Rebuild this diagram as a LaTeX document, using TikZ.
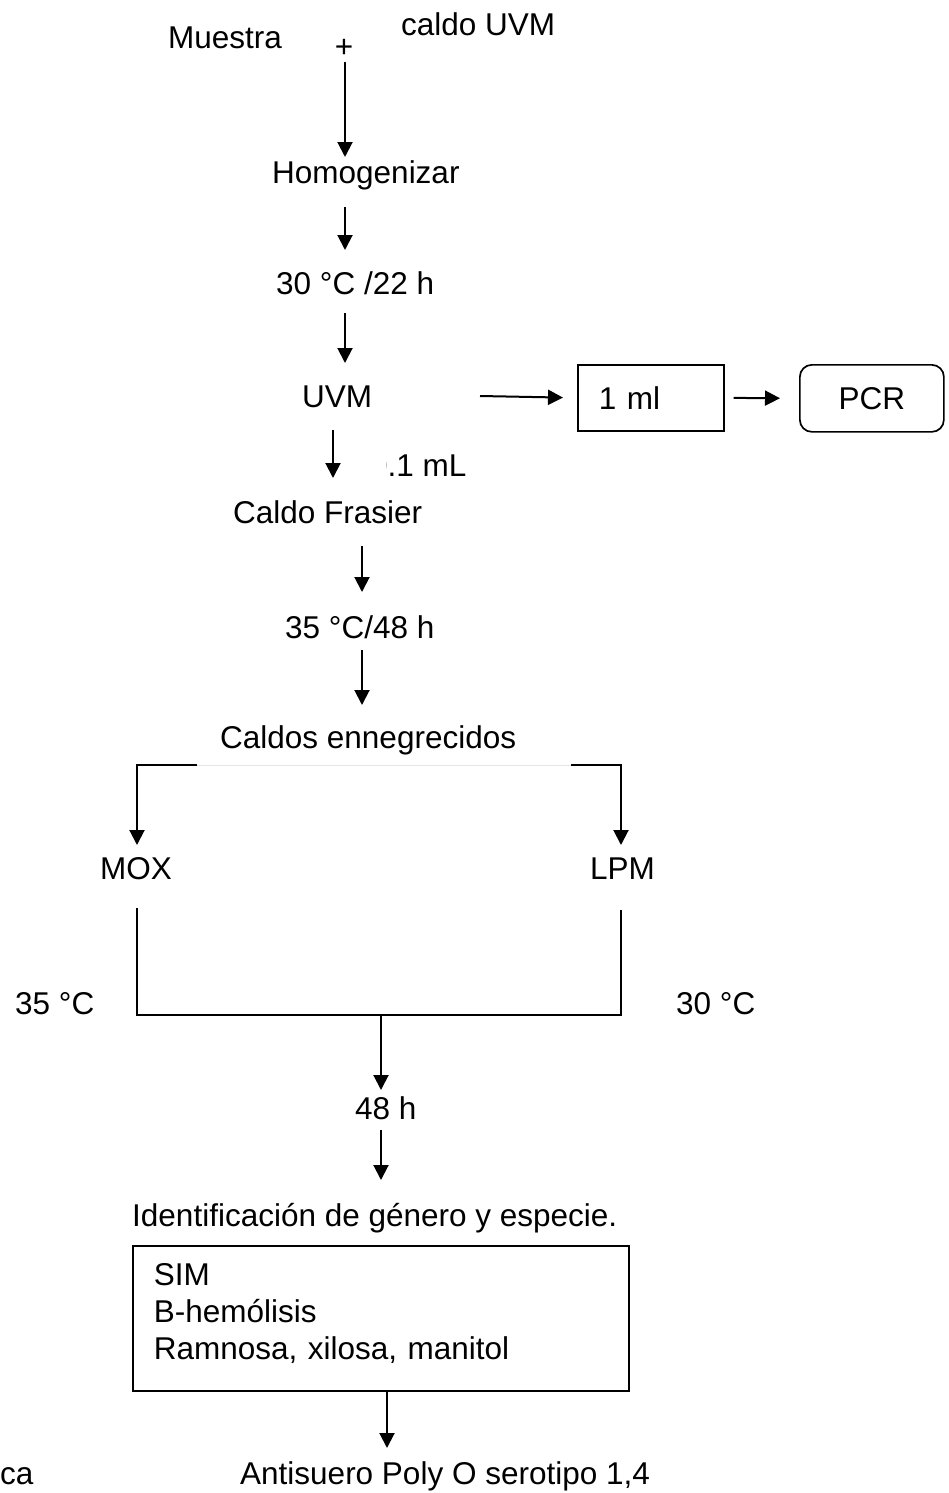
\documentclass[tikz,border=0pt]{standalone}
\usepackage{fontspec}
\setmainfont{Liberation Sans}
\usetikzlibrary{arrows.meta}
\begin{document}
\begin{tikzpicture}[x=1pt,y=-1pt,
  font=\fontsize{31.5}{37}\selectfont,
  txt/.style={anchor=base west, inner sep=0pt},
  arr/.style={line width=2pt, -{Triangle[width=15pt,length=15pt]}},
  ln/.style={line width=1.8pt},
  boxst/.style={draw, line width=1.7pt}]
\useasboundingbox (0,0) rectangle (948,1493);
% texts
\node[txt] (muestra) at (168,49) {Muestra};
\node[txt] (caldo) at (401,36) {caldo UVM};
\node[inner sep=0pt] (plus) at (344,48) {+};
\node[txt] (homo) at (272,183) {Homogenizar};
\node[txt] (t1) at (276,294) {30 °C /22 h};
\node[txt] (uvm) at (302,407) {UVM};
\node[boxst, anchor=north west, minimum width=146pt, minimum height=66pt,
      text width=104pt, inner xsep=21pt, align=left] (ml) at (577,364) {1 ml};
\node[boxst, rounded corners=12pt, anchor=north west, minimum width=144pt,
      minimum height=67pt] (pcr) at (799,364) {PCR};
\begin{scope}
  \clip (386,440) rectangle (520,490);
  \node[txt] (vol) at (370,476) {0.1 mL};
\end{scope}
\node[txt] (frasier) at (233,523) {Caldo Frasier};
\node[txt] (t2) at (285,638) {35 °C/48 h};
\node[txt] (ennegr) at (220,748) {Caldos ennegrecidos};
\node[txt] (mox) at (100,879) {MOX};
\node[txt] (lpm) at (590,879) {LPM};
\node[txt] (c35) at (15,1014) {35 °C};
\node[txt] (c30) at (676,1014) {30 °C};
\node[txt] (h48) at (355,1119) {48 h};
\node[txt] (ident) at (132,1226) {Identificación de género y especie.};
\node[boxst, anchor=north west, minimum width=496pt, text width=454pt,
      inner xsep=21pt, inner ysep=0pt, align=left] (tests) at (132,1245)
  {\rule{0pt}{40pt}SIM\\B-hemólisis\\Ramnosa, xilosa, manitol\rule[-31pt]{0pt}{0pt}};
\node[txt] (ca) at (0,1484) {ca};
\node[txt] (anti) at (240,1484) {Antisuero Poly O serotipo 1,4};
% connector coordinates
\coordinate (a1s) at (345,62);   \coordinate (a1e) at (345,157);
\coordinate (a2s) at (345,207);  \coordinate (a2e) at (345,250);
\coordinate (a3s) at (345,313);  \coordinate (a3e) at (345,363);
\coordinate (a4s) at (480,396);
\coordinate (a6s) at (333,430);  \coordinate (a6e) at (333,478);
\coordinate (a7s) at (362,546);  \coordinate (a7e) at (362,592);
\coordinate (a8s) at (362,650);  \coordinate (a8e) at (362,705);
\coordinate (bl) at (137,765);   \coordinate (bl2) at (197,765);
\coordinate (br) at (621,765);   \coordinate (br2) at (571,765);
\coordinate (mxe) at (137,845);  \coordinate (lpe) at (621,845);
\coordinate (ml1) at (137,908);  \coordinate (mr1) at (621,910);
\coordinate (jl) at (137,1015);  \coordinate (jr) at (621,1015);
\coordinate (jm) at (381,1015);  \coordinate (jme) at (381,1090);
\coordinate (a9s) at (381,1130); \coordinate (a9e) at (381,1180);
\coordinate (a10s) at (387,1390);\coordinate (a10e) at (387,1448);
% connectors
\draw[arr] (a1s) -- (a1e);
\draw[arr] (a2s) -- (a2e);
\draw[arr] (a3s) -- (a3e);
\draw[arr, shorten >=14pt] (a4s) -- (ml.west);
\draw[arr, shorten <=9pt, shorten >=19pt] (ml.east) -- (pcr.west);
\draw[arr] (a6s) -- (a6e);
\draw[arr] (a7s) -- (a7e);
\draw[arr] (a8s) -- (a8e);
\draw[gray!20, line width=1pt] (bl2) -- (br2);
\draw[arr] (bl2) -- (bl) -- (mxe);
\draw[arr] (br2) -- (br) -- (lpe);
\draw[ln] (ml1) -- (jl) -- (jr) -- (mr1);
\draw[arr] (jm) -- (jme);
\draw[arr] (a9s) -- (a9e);
\draw[arr] (a10s) -- (a10e);
\end{tikzpicture}
\end{document}
